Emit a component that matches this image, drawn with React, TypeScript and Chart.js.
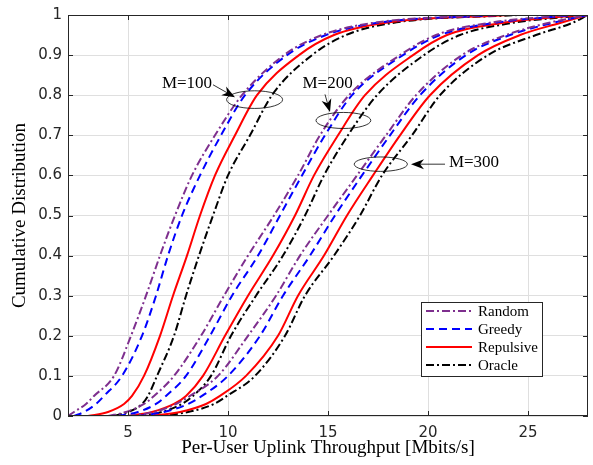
import React, { useEffect, useRef } from "react";
import { Chart, registerables } from "chart.js";

Chart.register(...registerables);

// CDF levels shared by all curves
const cdfLevels = [0, 0.01, 0.03, 0.05, 0.1, 0.2, 0.3, 0.4, 0.5, 0.6, 0.7, 0.8, 0.9, 0.95, 0.98, 1];

// Throughput (Mbits/s) at each CDF level
const random100 = [2.0, 2.3, 2.9, 3.3, 4.3, 5.15, 5.9, 6.6, 7.35, 8.2, 9.35, 10.7, 12.8, 14.7, 17.2, 23.0];
const greedy100 = [2.3, 2.8, 3.4, 3.8, 4.7, 5.7, 6.4, 7.0, 7.7, 8.6, 9.65, 10.85, 12.95, 14.9, 17.4, 23.5];
const repulsive100 = [3.0, 4.0, 4.8, 5.2, 5.8, 6.6, 7.25, 7.95, 8.6, 9.35, 10.35, 11.45, 13.55, 15.3, 17.8, 24.0];
const oracle100 = [4.3, 5.0, 5.7, 6.0, 6.45, 7.3, 7.9, 8.55, 9.25, 10.0, 11.1, 12.2, 14.2, 15.9, 18.2, 24.5];

const random200 = [4.0, 4.9, 5.8, 6.3, 7.3, 8.65, 9.8, 11.0, 12.3, 13.5, 14.6, 16.05, 18.6, 20.4, 23.0, 27.0];
const greedy200 = [4.5, 5.5, 6.4, 6.9, 7.9, 9.1, 10.2, 11.5, 12.6, 13.7, 14.85, 16.2, 18.75, 20.6, 23.3, 27.3];
const repulsive200 = [5.0, 6.2, 7.3, 7.9, 8.75, 9.85, 11.0, 12.25, 13.35, 14.3, 15.5, 16.85, 19.25, 20.95, 23.7, 27.6];
const oracle200 = [5.5, 6.7, 7.7, 8.25, 9.15, 10.15, 11.4, 12.75, 13.85, 14.8, 16.0, 17.45, 19.8, 21.6, 24.2, 28.0];

const random300 = [5.0, 6.3, 7.4, 8.1, 9.5, 11.0, 12.4, 13.6, 15.0, 16.45, 17.9, 19.4, 21.7, 23.9, 26.0, 28.0];
const greedy300 = [5.5, 6.8, 8.0, 8.7, 10.0, 11.6, 12.75, 14.1, 15.35, 16.7, 18.1, 19.6, 21.9, 24.1, 26.2, 28.0];
const repulsive300 = [6.0, 7.6, 8.9, 9.6, 10.9, 12.5, 13.5, 14.8, 15.95, 17.25, 18.6, 20.1, 22.5, 24.6, 26.6, 28.0];
const oracle300 = [6.3, 8.0, 9.3, 9.95, 11.35, 12.85, 13.85, 15.3, 16.6, 17.7, 19.2, 20.6, 23.0, 25.4, 27.2, 28.0];

const methodNames = ["Random", "Greedy", "Repulsive", "Oracle"];
const methodColors = ["#7E2F8E", "#0000FF", "#FF0000", "#000000"];
const methodDashes: number[][] = [[8, 3, 2, 3], [8, 5], [], [8, 3, 2, 3]];

const seriesByMethod = [
  [random100, random200, random300],
  [greedy100, greedy200, greedy300],
  [repulsive100, repulsive200, repulsive300],
  [oracle100, oracle200, oracle300],
];

const xTicks = [5, 10, 15, 20, 25];
const yTicks = [0, 0.1, 0.2, 0.3, 0.4, 0.5, 0.6, 0.7, 0.8, 0.9, 1];

const xTitle = "Per-User Uplink Throughput [Mbits/s]";
const yTitle = "Cumulative Distribution";

// Annotations (data coordinates)
const annotationLabels = ["M=100", "M=200", "M=300"];
const annotationTextX = [7.95, 14.98, 22.3];
const annotationTextY = [0.828, 0.828, 0.631];
const ellipseCenterX = [11.33, 15.77, 17.64];
const ellipseCenterY = [0.789, 0.737, 0.628];
const ellipseRadiusX = [1.4, 1.37, 1.33];
const ellipseRadiusY = [0.022, 0.02, 0.018];
const arrowStartX = [9.25, 14.85, 20.85];
const arrowStartY = [0.826, 0.802, 0.628];
const arrowEndX = [10.35, 15.1, 19.15];
const arrowEndY = [0.795, 0.758, 0.628];

const AXIS_COLOR = "#262626";
const GRID_COLOR = "rgb(223,223,223)";

function drawArrow(ctx: CanvasRenderingContext2D, x1: number, y1: number, x2: number, y2: number) {
  const ang = Math.atan2(y2 - y1, x2 - x1);
  const c = Math.cos(ang), s = Math.sin(ang);
  const L = 13, W = 5;
  const bx = x2 - L * c, by = y2 - L * s;
  ctx.beginPath();
  ctx.moveTo(x1, y1);
  ctx.lineTo(x2 - 0.6 * L * c, y2 - 0.6 * L * s);
  ctx.stroke();
  ctx.beginPath();
  ctx.moveTo(x2, y2);
  ctx.lineTo(bx + W * s, by - W * c);
  ctx.lineTo(x2 - 0.7 * L * c, y2 - 0.7 * L * s);
  ctx.lineTo(bx - W * s, by + W * c);
  ctx.closePath();
  ctx.fill();
}

const overlayPlugin = {
  id: "overlay",
  afterDraw(chart: any) {
    const { ctx, chartArea, scales } = chart;
    const xs = scales.x, ys = scales.y;
    const { left, right, top, bottom } = chartArea;
    ctx.save();

    // annotations
    ctx.strokeStyle = "#000";
    ctx.fillStyle = "#000";
    ctx.lineWidth = 0.8;
    ctx.setLineDash([]);
    for (let i = 0; i < annotationLabels.length; i++) {
      const cx = xs.getPixelForValue(ellipseCenterX[i]);
      const cy = ys.getPixelForValue(ellipseCenterY[i]);
      const rx = Math.abs(xs.getPixelForValue(ellipseCenterX[i] + ellipseRadiusX[i]) - cx);
      const ry = Math.abs(ys.getPixelForValue(ellipseCenterY[i] + ellipseRadiusY[i]) - cy);
      ctx.beginPath();
      ctx.ellipse(cx, cy, rx, ry, 0, 0, Math.PI * 2);
      ctx.stroke();
      drawArrow(
        ctx,
        xs.getPixelForValue(arrowStartX[i]),
        ys.getPixelForValue(arrowStartY[i]),
        xs.getPixelForValue(arrowEndX[i]),
        ys.getPixelForValue(arrowEndY[i])
      );
      ctx.font = '17px "Liberation Serif"';
      ctx.textAlign = "center";
      ctx.textBaseline = "middle";
      ctx.fillText(
        annotationLabels[i],
        xs.getPixelForValue(annotationTextX[i]),
        ys.getPixelForValue(annotationTextY[i])
      );
    }

    // axes box and inward ticks
    ctx.strokeStyle = AXIS_COLOR;
    ctx.lineWidth = 1;
    ctx.strokeRect(Math.round(left) + 0.5, Math.round(top) + 0.5, Math.round(right - left) - 1, Math.round(bottom - top) - 1);
    const tl = 5;
    ctx.beginPath();
    for (const t of xTicks) {
      const px = Math.round(xs.getPixelForValue(t)) + 0.5;
      ctx.moveTo(px, bottom);
      ctx.lineTo(px, bottom - tl);
      ctx.moveTo(px, top);
      ctx.lineTo(px, top + tl);
    }
    for (const t of yTicks) {
      const py = Math.round(ys.getPixelForValue(t)) + 0.5;
      ctx.moveTo(left, py);
      ctx.lineTo(left + tl, py);
      ctx.moveTo(right, py);
      ctx.lineTo(right - tl, py);
    }
    ctx.stroke();

    // legend
    const bw = 121, bh = 74;
    const bl = right - 167, bt = bottom - 114;
    ctx.fillStyle = "#fff";
    ctx.fillRect(bl, bt, bw, bh);
    ctx.strokeStyle = AXIS_COLOR;
    ctx.lineWidth = 1;
    ctx.strokeRect(bl + 0.5, bt + 0.5, bw, bh);
    ctx.font = '15px "Liberation Serif"';
    ctx.textAlign = "left";
    ctx.textBaseline = "middle";
    for (let i = 0; i < methodNames.length; i++) {
      const ry = bt + 9 + i * 18;
      ctx.strokeStyle = methodColors[i];
      ctx.lineWidth = 2;
      ctx.setLineDash(methodDashes[i]);
      ctx.beginPath();
      ctx.moveTo(bl + 5, ry);
      ctx.lineTo(bl + 51, ry);
      ctx.stroke();
      ctx.setLineDash([]);
      ctx.fillStyle = "#000";
      ctx.fillText(methodNames[i], bl + 57, ry + 1);
    }
    ctx.restore();
  },
};

export default function App() {
  const ref = useRef<HTMLCanvasElement | null>(null);
  useEffect(() => {
    if (!ref.current) return;
    const datasets: any[] = [];
    seriesByMethod.forEach((group, m) => {
      group.forEach((xs, g) => {
        datasets.push({
          label: methodNames[m] + " " + (g + 1),
          data: xs.map((x, k) => ({ x, y: cdfLevels[k] })),
          borderColor: methodColors[m],
          borderWidth: 2,
          borderDash: methodDashes[m],
          pointRadius: 0,
          fill: false,
          cubicInterpolationMode: "monotone",
        });
      });
    });
    const chart = new Chart(ref.current, {
      type: "line",
      data: { datasets },
      options: {
        animation: false,
        responsive: false,
        devicePixelRatio: 1,
        layout: { padding: { left: 0, right: 5, top: 7, bottom: 0 } },
        plugins: { legend: { display: false }, tooltip: { enabled: false } },
        scales: {
          x: {
            type: "linear",
            min: 2,
            max: 28,
            afterBuildTicks: (s: any) => {
              s.ticks = xTicks.map((v) => ({ value: v }));
            },
            afterFit: (s: any) => {
              s.height = 49;
            },
            grid: { color: GRID_COLOR, drawTicks: false },
            border: { display: false },
            ticks: {
              color: AXIS_COLOR,
              font: { family: "DejaVu Sans", size: 15 },
              padding: 8,
              maxRotation: 0,
              callback: (v: any) => String(v),
            },
            title: {
              display: true,
              text: xTitle,
              color: "#000",
              font: { family: "Liberation Serif", size: 19 },
              padding: { top: 0, bottom: 5.6 },
            },
          },
          y: {
            type: "linear",
            min: 0,
            max: 1,
            afterBuildTicks: (s: any) => {
              s.ticks = yTicks.map((v) => ({ value: v }));
            },
            afterFit: (s: any) => {
              s.width = 68;
            },
            grid: { color: GRID_COLOR, drawTicks: false },
            border: { display: false },
            ticks: {
              color: AXIS_COLOR,
              font: { family: "DejaVu Sans", size: 15 },
              padding: 6,
              callback: (v: any) => String(Math.round(v * 10) / 10),
            },
            title: {
              display: true,
              text: yTitle,
              color: "#000",
              font: { family: "Liberation Serif", size: 19 },
              padding: { top: 8.6, bottom: 0 },
            },
          },
        },
      },
      plugins: [overlayPlugin],
    });
    return () => chart.destroy();
  }, []);
  return (
    <div style={{ position: "fixed", left: 0, top: 0, width: 593, height: 465, background: "#fff" }}>
      <canvas ref={ref} width={593} height={465} style={{ width: 593, height: 465, display: "block" }} />
    </div>
  );
}
